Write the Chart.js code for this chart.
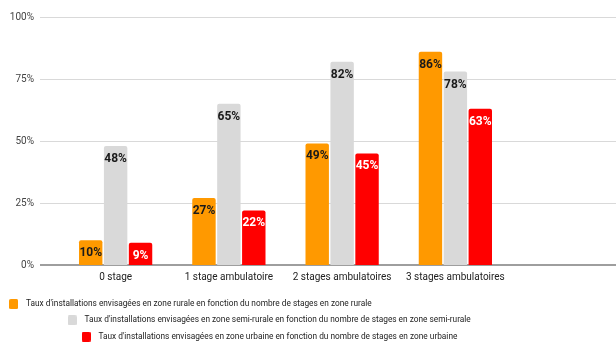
<!DOCTYPE html>
<html>
<head>
<meta charset="utf-8">
<script src="https://cdn.jsdelivr.net/npm/chart.js@4/dist/chart.umd.min.js"></script>
<style>
html,body{margin:0;padding:0;background:#fff;}
#wrap{width:616px;height:345px;position:relative;}
</style>
</head>
<body>
<div id="wrap"><canvas id="c" width="616" height="345"></canvas></div>
<script>
const categories = ['0 stage', '1 stage ambulatoire', '2 stages ambulatoires', '3 stages ambulatoires'];
const seriesNames = [
  "Taux d'installations envisagées en zone rurale en fonction du nombre de stages en zone rurale",
  "Taux d'installations envisagées en zone semi-rurale en fonction du nombre de stages en zone semi-rurale",
  "Taux d'installations envisagées en zone urbaine en fonction du nombre de stages en zone urbaine"
];
const rural = [10, 27, 49, 86];
const semiRural = [48, 65, 82, 78];
const urban = [9, 22, 45, 63];
const yTicks = [0, 25, 50, 75, 100];

const colors = ['#ff9900', '#d9d9d9', '#ff0000'];
const labelColors = ['#1a1a1a', '#1a1a1a', '#ffffff'];
const legendX = [5.5, 64, 78];

function swatch(color) {
  const c = document.createElement('canvas');
  c.width = 9; c.height = 10;
  const g = c.getContext('2d');
  g.fillStyle = color;
  g.beginPath();
  if (g.roundRect) g.roundRect(0, 0, 9, 10, 1.5); else g.rect(0, 0, 9, 10);
  g.fill();
  return c;
}
const swatches = colors.map(swatch);

const gridPlugin = {
  id: 'grid',
  beforeDatasetsDraw(chart) {
    const y = chart.scales.y, ctx = chart.ctx;
    ctx.save();
    y.ticks.forEach(t => {
      const py = Math.round(y.getPixelForValue(t.value));
      ctx.beginPath();
      if (t.value === 0) { ctx.strokeStyle = '#9e9e9e'; ctx.lineWidth = 2; }
      else { ctx.strokeStyle = '#d9d9d9'; ctx.lineWidth = 1; }
      const off = t.value === 0 ? 0 : 0.5;
      ctx.moveTo(40, py + off);
      ctx.lineTo(chart.width, py + off);
      ctx.stroke();
    });
    ctx.restore();
  }
};

const labelPlugin = {
  id: 'vals',
  afterDatasetsDraw(chart) {
    const ctx = chart.ctx;
    ctx.save();
    ctx.font = 'bold 12px Roboto';
    ctx.textAlign = 'center';
    ctx.textBaseline = 'middle';
    chart.data.datasets.forEach((ds, i) => {
      chart.getDatasetMeta(i).data.forEach((el, j) => {
        ctx.fillStyle = labelColors[i];
        ctx.fillText(ds.data[j] + '%', el.x, el.y + 13);
      });
    });
    ctx.restore();
  }
};

const legendPlugin = {
  id: 'legendShift',
  afterLayout(chart) {
    const lg = chart.legend;
    if (!lg || !lg.lineWidths) return;
    for (let i = 0; i < lg.lineWidths.length; i++) {
      lg.lineWidths[i] = lg.right - legendX[i];
    }
    lg.top = 304 - 8 - 4.15;
    lg.bottom = chart.height;
    lg.height = lg.bottom - lg.top;
  }
};

new Chart(document.getElementById('c'), {
  type: 'bar',
  data: {
    labels: categories,
    datasets: [
      { label: seriesNames[0], data: rural, backgroundColor: colors[0] },
      { label: seriesNames[1], data: semiRural, backgroundColor: colors[1] },
      { label: seriesNames[2], data: urban, backgroundColor: colors[2] }
    ]
  },
  options: {
    responsive: false,
    animation: false,
    devicePixelRatio: 1,
    layout: { padding: { top: 17, right: 0, left: 0, bottom: 0 } },
    datasets: {
      bar: {
        categoryPercentage: 0.66,
        barPercentage: 0.94,
        borderRadius: { topLeft: 2, topRight: 2, bottomLeft: 0, bottomRight: 0 },
        borderSkipped: 'start'
      }
    },
    scales: {
      x: {
        grid: { display: false, drawTicks: false },
        border: { display: false },
        ticks: { color: '#222', font: { family: 'Roboto', size: 10 }, padding: 6, maxRotation: 0, autoSkip: false },
        afterFit(s) { s.height = 40; }
      },
      y: {
        min: 0, max: 100,
        afterBuildTicks(s) { s.ticks = yTicks.map(v => ({ value: v })); },
        grid: { display: false, drawTicks: false },
        border: { display: false },
        ticks: { color: '#444', font: { family: 'Roboto', size: 10 }, padding: 25, callback: v => v + '%' },
        afterFit(s) { s.width = 59; s.paddingTop = 0; s.paddingBottom = 0; }
      },
      yRight: {
        position: 'right',
        min: 0, max: 100,
        grid: { display: false, drawTicks: false },
        border: { display: false },
        ticks: { display: false },
        afterFit(s) { s.width = 104; s.paddingTop = 0; s.paddingBottom = 0; }
      }
    },
    plugins: {
      legend: {
        position: 'bottom',
        align: 'end',
        maxHeight: 40,
        labels: {
          usePointStyle: true,
          pointStyleWidth: 16.3,
          boxWidth: 9, boxHeight: 10, padding: 8,
          color: '#222',
          font: { family: 'Roboto', size: 8.3 },
          generateLabels(chart) {
            const items = Chart.defaults.plugins.legend.labels.generateLabels(chart);
            items.forEach((it, i) => { it.pointStyle = swatches[i]; });
            return items;
          }
        }
      },
      tooltip: { enabled: false }
    }
  },
  plugins: [gridPlugin, labelPlugin, legendPlugin]
});
</script>
</body>
</html>
